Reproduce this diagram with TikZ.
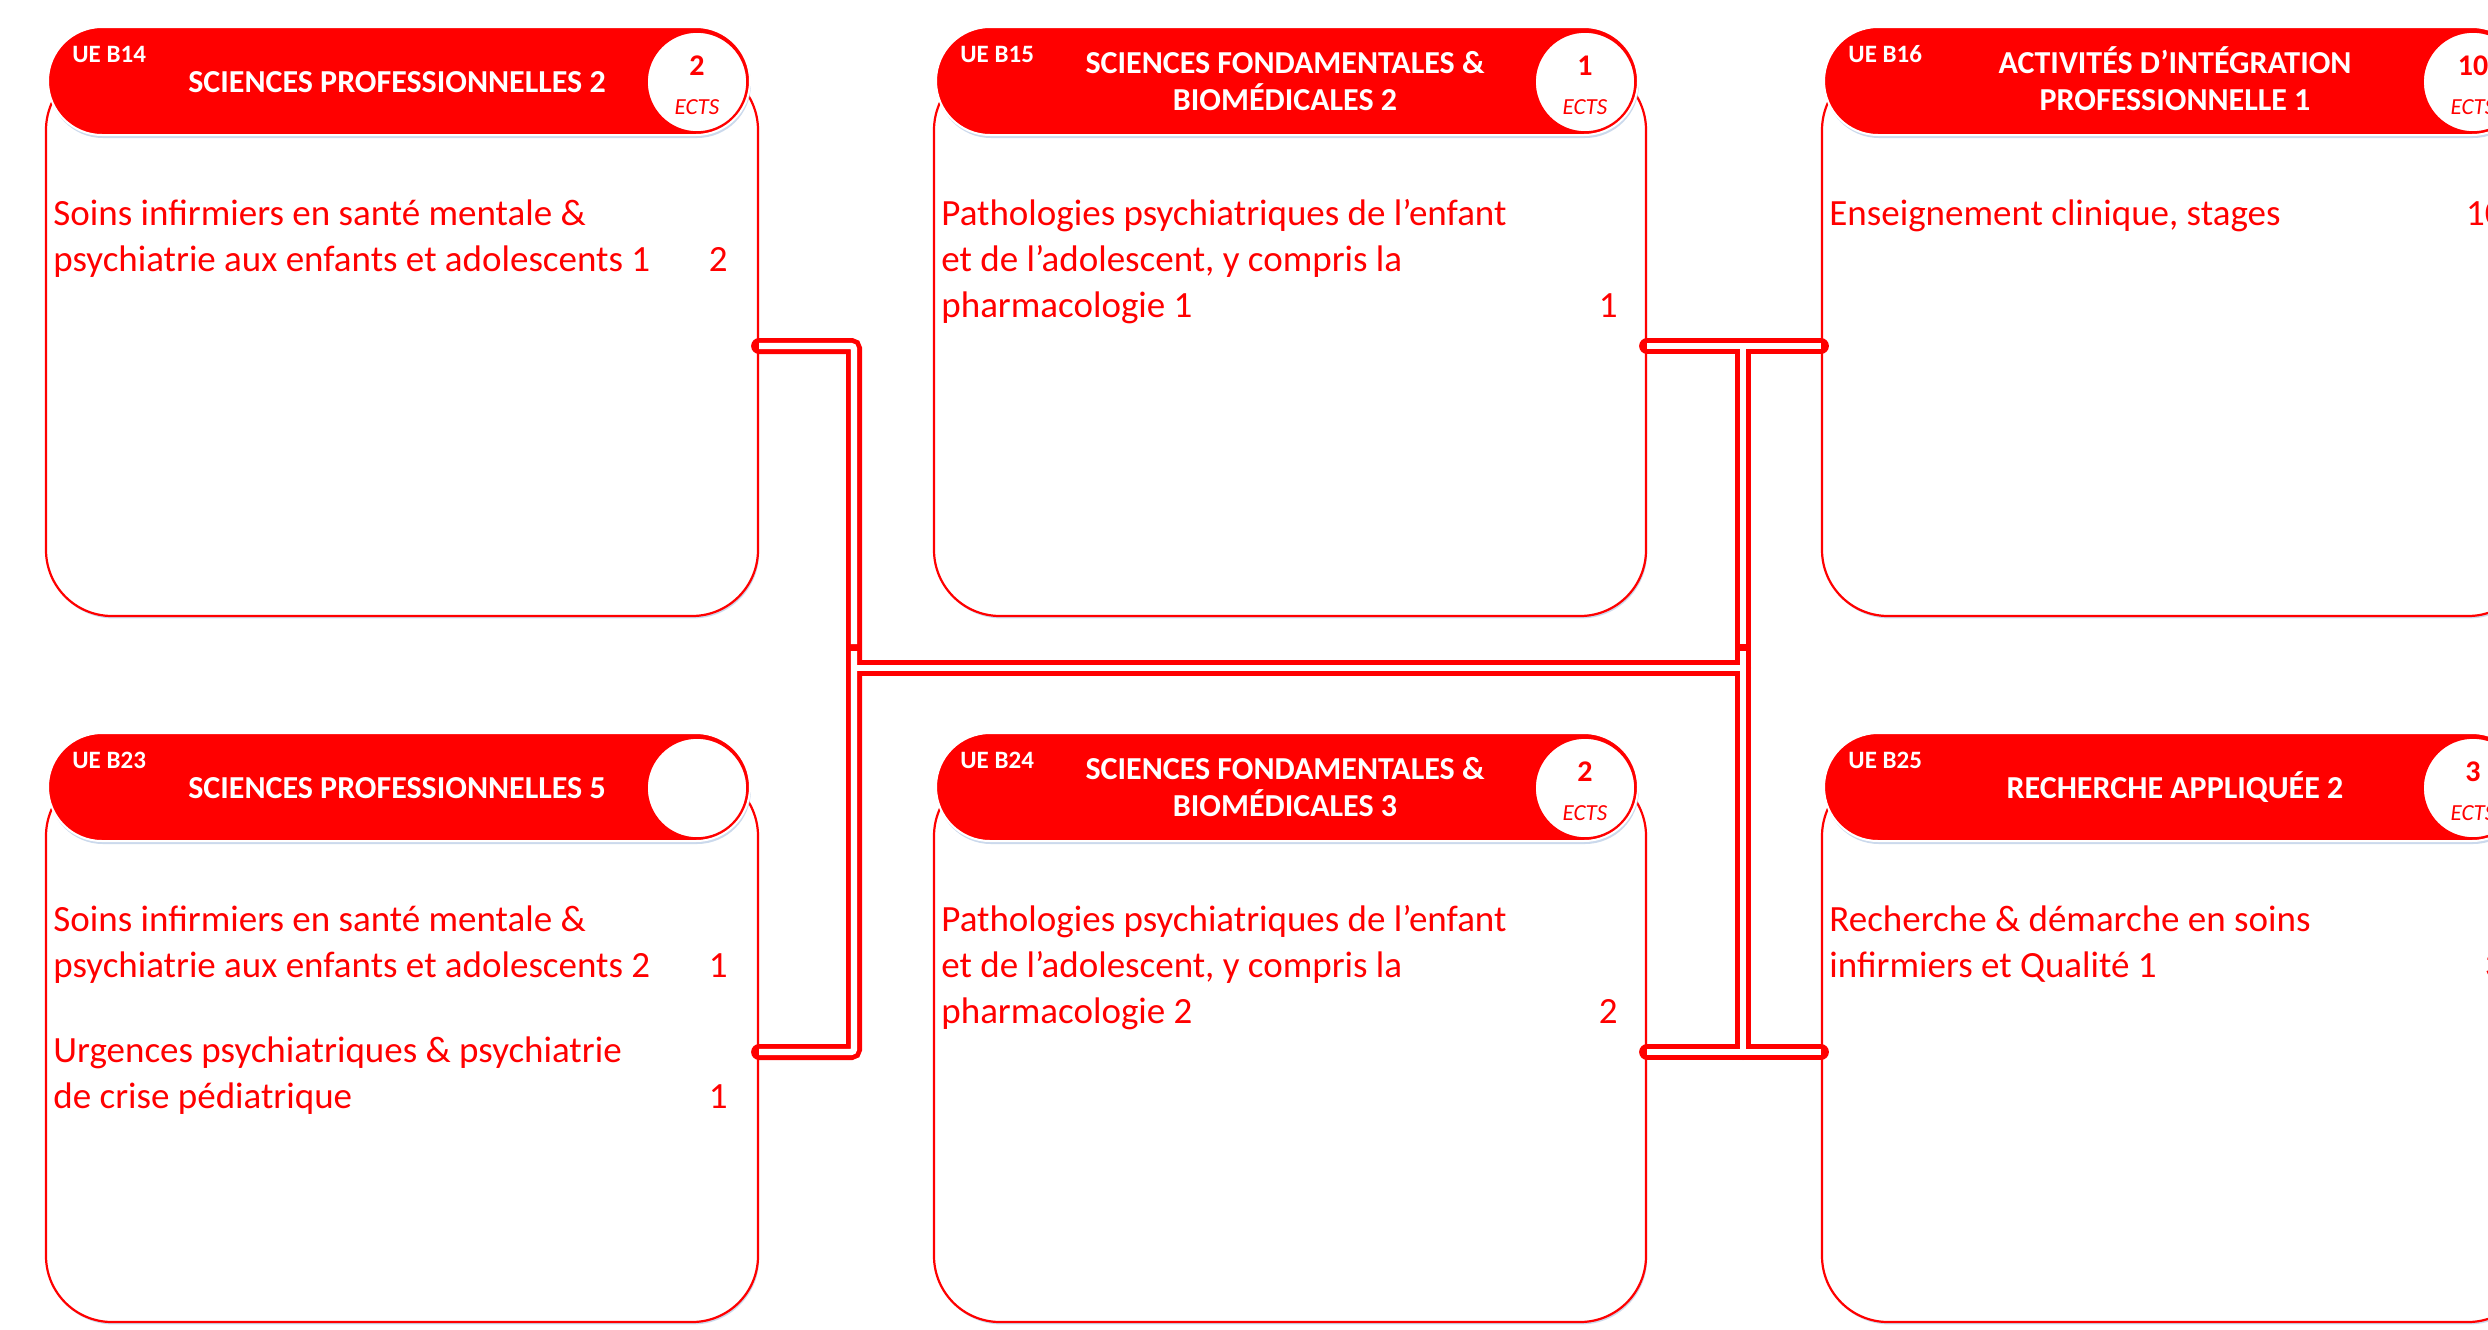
\documentclass[tikz,border=0pt]{standalone}
\usepackage{fontspec}
\setmainfont{Carlito}
\usetikzlibrary{shadows,calc}
\definecolor{ured}{RGB}{255,0,0}
\definecolor{shblue}{RGB}{190,208,232}
\begin{document}
\begin{tikzpicture}[x=0.5pt,y=-0.5pt,
  bodybox/.style={draw=ured, line width=1.1pt, fill=white, rounded corners=33pt,
    minimum width=356pt, minimum height=276pt, inner sep=0pt,
    drop shadow={shadow xshift=0.6pt, shadow yshift=-1.2pt, fill=shblue, opacity=0.8}},
  pill/.style={fill=ured, draw=white, line width=1pt, rounded corners=27pt,
    minimum width=351pt, minimum height=54pt, inner sep=0pt,
    drop shadow={shadow xshift=0.5pt, shadow yshift=-1.5pt, fill=shblue, opacity=0.8}},
  ects/.style={circle, fill=white, draw=ured, line width=0.8pt, minimum size=50pt, inner sep=0pt},
  ue/.style={font=\bfseries\fontsize{12.5}{14}\selectfont, text=white, anchor=base west, inner sep=0pt},
  ttl/.style={font=\bfseries\fontsize{16}{18}\selectfont, text=white, anchor=base, inner sep=0pt},
  enum/.style={font=\bfseries\fontsize{15}{17}\selectfont, text=ured, anchor=base, inner sep=0pt},
  etxt/.style={font=\itshape\fontsize{11.5}{13}\selectfont, text=ured, anchor=base, inner sep=0pt},
  txt/.style={font=\fontsize{18.5}{22}\selectfont, text=ured, anchor=base west, inner sep=0pt},
  txtn/.style={font=\fontsize{18.5}{22}\selectfont, text=ured, anchor=base east, inner sep=0pt},
  conred/.style={draw=ured, line width=8pt, line cap=round, rounded corners=1.5pt},
  conwhite/.style={draw=white, line width=3.2pt, line cap=butt, rounded corners=1.5pt}
]
\useasboundingbox (0,0) rectangle (2488,1329);

% ---------- bodies ----------
\node[bodybox] (b14) at (402,340) {};
\node[bodybox] (b15) at (1290,340) {};
\node[bodybox] (b16) at (2178,340) {};
\node[bodybox] (b23) at (402,1046) {};
\node[bodybox] (b24) at (1290,1046) {};
\node[bodybox] (b25) at (2178,1046) {};

% ---------- connectors ----------
\coordinate (j1) at (854,346);
\coordinate (j2) at (854,1052);
\coordinate (j3) at (1743,346);
\coordinate (j4) at (1743,1052);
\coordinate (m1) at (854,668);
\coordinate (m2) at (1743,668);
\coordinate (k1) at (854,644);
\coordinate (k2) at (854,651);
\coordinate (k3) at (1743,644);
\coordinate (k4) at (1743,651);

\draw[conred] (b14.east |- j1) -- (j1) -- (j2) -- (b23.east |- j2);
\draw[conred] (b15.east |- j3) -- (b16.west |- j3);
\draw[conred] (j3) -- (j4);
\draw[conred] (b24.east |- j4) -- (b25.west |- j4);
\draw[conred] (m1) -- (m2);

\draw[conwhite] (b14.east |- j1) -- (j1) -- (k1);
\draw[conwhite] (k2) -- (j2) -- (b23.east |- j2);
\draw[conwhite] (b15.east |- j3) -- (b16.west |- j3);
\draw[conwhite] (j3) -- (k3);
\draw[conwhite] (k4) -- (j4);
\draw[conwhite] (b24.east |- j4) -- (b25.west |- j4);
\draw[conwhite] (m1) -- (m2);

% ---------- headers ----------
\node[pill] (h14) at (399,81) {};
\node[pill] (h15) at (1287,81) {};
\node[pill] (h16) at (2175,81) {};
\node[pill] (h23) at (399,787) {};
\node[pill] (h24) at (1287,787) {};
\node[pill] (h25) at (2175,787) {};

\node[ects] (e14) at (697,82) {};
\node[ects] (e15) at (1585,82) {};
\node[ects] (e16) at (2473,82) {};
\node[ects] (e23) at (697,788) {};
\node[ects] (e24) at (1585,788) {};
\node[ects] (e25) at (2473,788) {};

\node[enum] (n14) at (697,75) {2};
\node[etxt] (t14) at (697,114) {ECTS};
\node[enum] (n15) at (1585,75) {1};
\node[etxt] (t15) at (1585,114) {ECTS};
\node[enum] (n16) at (2473,75) {10};
\node[etxt] (t16) at (2473,114) {ECTS};
\node[enum] (n24) at (1585,781) {2};
\node[etxt] (t24) at (1585,820) {ECTS};
\node[enum] (n25) at (2473,781) {3};
\node[etxt] (t25) at (2473,820) {ECTS};

\node[ue] (u14) at (72,62) {UE B14};
\node[ue] (u15) at (960,62) {UE B15};
\node[ue] (u16) at (1848,62) {UE B16};
\node[ue] (u23) at (72,768) {UE B23};
\node[ue] (u24) at (960,768) {UE B24};
\node[ue] (u25) at (1848,768) {UE B25};

\node[ttl] (s14) at (397,92) {SCIENCES PROFESSIONNELLES 2};
\node[ttl] (s15a) at (1285,73) {SCIENCES FONDAMENTALES \&};
\node[ttl] (s15b) at (1285,110) {BIOMÉDICALES 2};
\node[ttl] (s16a) at (2175,73) {ACTIVITÉS D’INTÉGRATION};
\node[ttl] (s16b) at (2175,110) {PROFESSIONNELLE 1};
\node[ttl] (s23) at (397,798) {SCIENCES PROFESSIONNELLES 5};
\node[ttl] (s24a) at (1285,779) {SCIENCES FONDAMENTALES \&};
\node[ttl] (s24b) at (1285,816) {BIOMÉDICALES 3};
\node[ttl] (s25) at (2175,798) {RECHERCHE APPLIQUÉE 2};

% ---------- body texts ----------
\node[txt] (a14a) at (53,225) {Soins infirmiers en santé mentale \&};
\node[txt] (a14b) at (53,271) {psychiatrie aux enfants et adolescents 1};
\node[txtn] (x14) at (728,271) {2};

\node[txt] (a15a) at (941,225) {Pathologies psychiatriques de l’enfant};
\node[txt] (a15b) at (941,271) {et de l’adolescent, y compris la};
\node[txt] (a15c) at (941,317) {pharmacologie 1};
\node[txtn] (x15) at (1618,317) {1};

\node[txt] (a16a) at (1829,225) {Enseignement clinique, stages};
\node[txtn] (x16) at (2504,225) {10};

\node[txt] (a23a) at (53,931) {Soins infirmiers en santé mentale \&};
\node[txt] (a23b) at (53,977) {psychiatrie aux enfants et adolescents 2};
\node[txtn] (x23a) at (728,977) {1};
\node[txt] (a23c) at (53,1062) {Urgences psychiatriques \& psychiatrie};
\node[txt] (a23d) at (53,1108) {de crise pédiatrique};
\node[txtn] (x23b) at (728,1108) {1};

\node[txt] (a24a) at (941,931) {Pathologies psychiatriques de l’enfant};
\node[txt] (a24b) at (941,977) {et de l’adolescent, y compris la};
\node[txt] (a24c) at (941,1023) {pharmacologie 2};
\node[txtn] (x24) at (1618,1023) {2};

\node[txt] (a25a) at (1829,931) {Recherche \& démarche en soins};
\node[txt] (a25b) at (1829,977) {infirmiers et Qualité 1};
\node[txtn] (x25) at (2504,977) {3};
\end{tikzpicture}
\end{document}
